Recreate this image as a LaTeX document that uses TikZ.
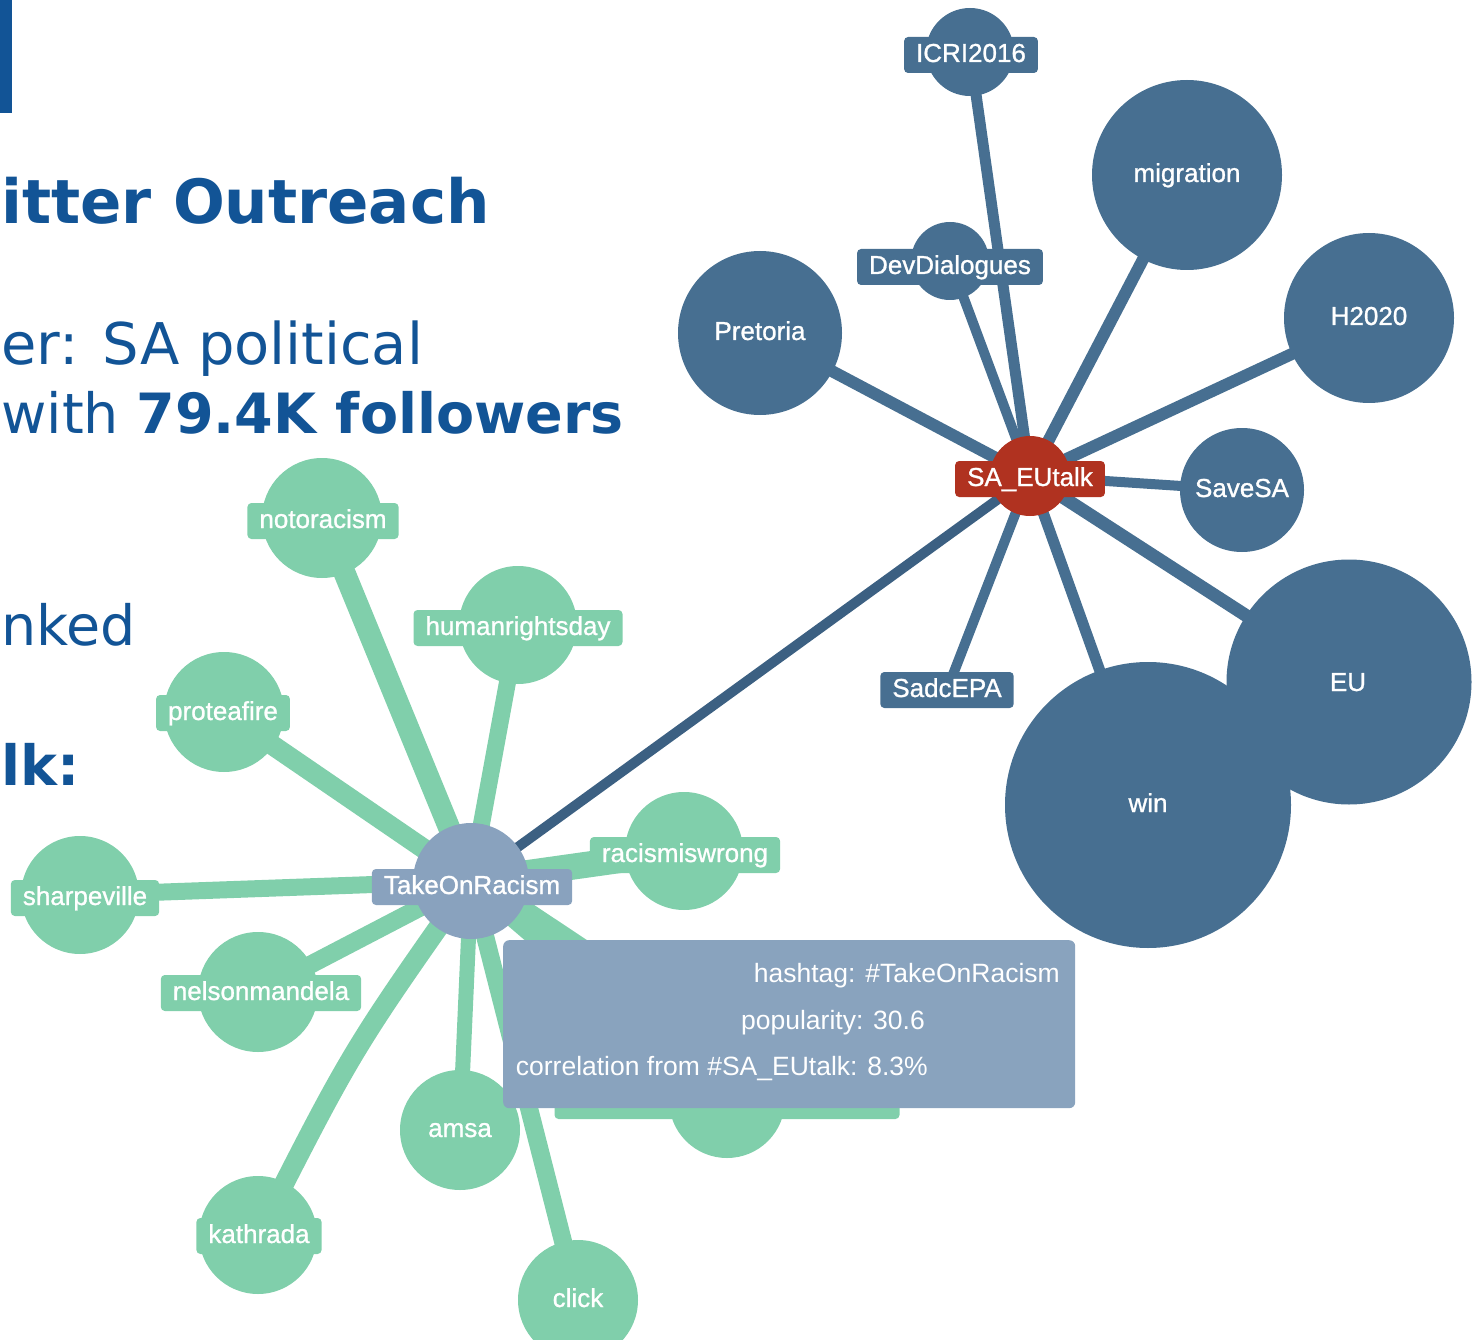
\documentclass[tikz,border=0pt]{standalone}
\usepackage{fontspec}
\setmainfont{DejaVu Sans}
\newfontfamily\lblfont[FakeBold=1]{Liberation Sans}
\newfontfamily\tipfont{Liberation Sans}
\definecolor{tblue}{RGB}{18,84,150}
\definecolor{nblue}{RGB}{71,111,145}
\definecolor{eblue}{RGB}{60,96,130}
\definecolor{ered}{RGB}{176,50,32}
\definecolor{ngreen}{RGB}{128,207,171}
\definecolor{ngray}{RGB}{137,162,190}
\definecolor{tipc}{RGB}{137,163,190}
\pgfdeclarelayer{edges}
\pgfsetlayers{edges,main}
\tikzset{
  lblfnt/.style={font=\lblfont\fontsize{26}{26}\selectfont},
  bnode/.style={circle, fill=nblue, inner sep=0pt, minimum size=#1, text=white, lblfnt, text height=19pt, text depth=5pt},
  gnode/.style={circle, fill=ngreen, inner sep=0pt, minimum size=#1, text=white, lblfnt, text height=19pt, text depth=5pt},
  lbox/.style={rounded corners=4pt, inner xsep=12pt, inner ysep=0pt, minimum height=36pt, text height=19pt, text depth=5pt, text=white, lblfnt},
  blbl/.style={lbox, fill=nblue},
  glbl/.style={lbox, fill=ngreen},
  bedge/.style={draw=nblue, line width=#1},
  gedge/.style={draw=ngreen, line width=#1},
  bodytxt/.style={text=tblue, inner sep=0pt, anchor=base west, font=\fontsize{55.5}{55.5}\selectfont},
  tiptxt/.style={text=white, inner sep=0pt, anchor=base east, font=\tipfont\fontsize{26.5}{26.5}\selectfont},
}
\begin{document}
\begin{tikzpicture}[x=1pt,y=-1pt]
\useasboundingbox (0,0) rectangle (1476,1340);
\clip (0,0) rectangle (1476,1340);

% left text
\fill[tblue] (0,0) rectangle (12,113);
\node[bodytxt, font=\bfseries\fontsize{61}{61}\selectfont] (title) at (1,224) {itter Outreach};
\node[bodytxt, font=\fontsize{57.5}{57.5}\selectfont] (l1) at (1,365) {er: SA political};
\node[bodytxt] (l2) at (1,433) {with \textbf{79.4K followers}};
\node[bodytxt] (l3) at (1,645) {nked};
\node[bodytxt] (l4) at (1,785) {\textbf{lk:}};

% blue cluster
\node[bnode=88] (icri) at (970,52) {};
\node[blbl] (icril) at (971,55) {ICRI2016};
\node[bnode=78] (dev) at (950,261) {};
\node[blbl] (devl) at (950,267) {DevDialogues};
\node[bnode=190] (mig) at (1187,175) {migration};
\node[bnode=164] (pre) at (760,333) {Pretoria};
\node[bnode=170] (h20) at (1369,318) {H2020};
\node[bnode=124] (save) at (1242,490) {SaveSA};
\node[blbl] (sadc) at (947,690) {SadcEPA};
\node[bnode=245] (eu) at (1349,682) {};
\node[bnode=286] (win) at (1148,805) {win};
\node[lblfnt, text=white, text height=19pt, text depth=5pt] (eut) at (1348,684) {EU};
\node[bnode=80, fill=ered] (sa) at (1030,476) {};
\node[lbox, fill=ered] (sal) at (1030,479) {SA\_EUtalk};

% green cluster
\node[gnode=120] (noto) at (322,518) {};
\node[glbl] (notol) at (323,521) {notoracism};
\node[gnode=118] (hrd) at (518,625) {};
\node[glbl] (hrdl) at (518,628) {humanrightsday};
\node[gnode=120] (pro) at (224,712) {};
\node[glbl] (prol) at (223,713) {proteafire};
\node[gnode=118] (rw) at (684,851) {};
\node[glbl] (rwl) at (685,855) {racismiswrong};
\node[gnode=118] (sharp) at (80,895) {};
\node[glbl] (sharpl) at (85,898) {sharpeville};
\node[gnode=120] (nm) at (258,992) {};
\node[glbl] (nml) at (261,993) {nelsonmandela};
\node[gnode=120] (amsa) at (460,1130) {amsa};
\node[gnode=118] (kat) at (258,1235) {};
\node[glbl] (katl) at (259,1236) {kathrada};
\node[gnode=120] (click) at (578,1300) {click};
\node[gnode=116] (hid1) at (727,1100) {};
\node[glbl, minimum width=345pt] (hid1l) at (727,1101) {};
\node[gnode=100] (hid2) at (650,1000) {};
\node[gnode=116, fill=ngray] (tor) at (471,881) {};
\node[lbox, fill=ngray] (torl) at (472,887) {TakeOnRacism};

% edges
\begin{pgfonlayer}{edges}
\draw[bedge=11] (sa.center) -- (icri.center);
\draw[bedge=10] (sa.center) -- (dev.center);
\draw[bedge=12] (sa.center) -- (mig.center);
\draw[bedge=12] (sa.center) -- (pre.center);
\draw[bedge=12] (sa.center) -- (h20.center);
\draw[bedge=10] (sa.center) -- (save.center);
\draw[bedge=10] (sa.center) -- (sadc.center);
\draw[bedge=11] (sa.center) -- (win.center);
\draw[bedge=13] (sa.center) -- (eu.center);
\draw[draw=eblue, line width=10] (tor.center) -- (sa.center);
\draw[gedge=22] (tor.center) -- (noto.center);
\draw[gedge=17] (tor.center) -- (hrd.center);
\draw[gedge=20] (tor.center) -- (pro.center);
\draw[gedge=26] (tor.center) -- (rw.center);
\draw[gedge=17] (tor.center) -- (sharp.center);
\draw[gedge=18] (tor.center) -- (nm.center);
\draw[gedge=15] (tor.center) -- (amsa.center);
\draw[gedge=20] (tor.center) .. controls (352,1050) .. (kat.center);
\draw[gedge=18] (tor.center) -- (click.center);
\draw[gedge=20] (tor.center) -- (hid1.center);
\draw[gedge=30] (tor.center) -- (hid2.center);
\end{pgfonlayer}

% tooltip
\node[fill=tipc, rounded corners=6pt, minimum width=572pt, minimum height=168pt, inner sep=0pt, anchor=north west] (tip) at (503,940) {};
\node[tiptxt] (tip1) at (1060,982) {hashtag: \#TakeOnRacism};
\node[tiptxt] (tip2) at (925,1029) {popularity: 30.6};
\node[tiptxt] (tip3) at (928,1075) {correlation from \#SA\_EUtalk: 8.3\%};
\end{tikzpicture}
\end{document}
